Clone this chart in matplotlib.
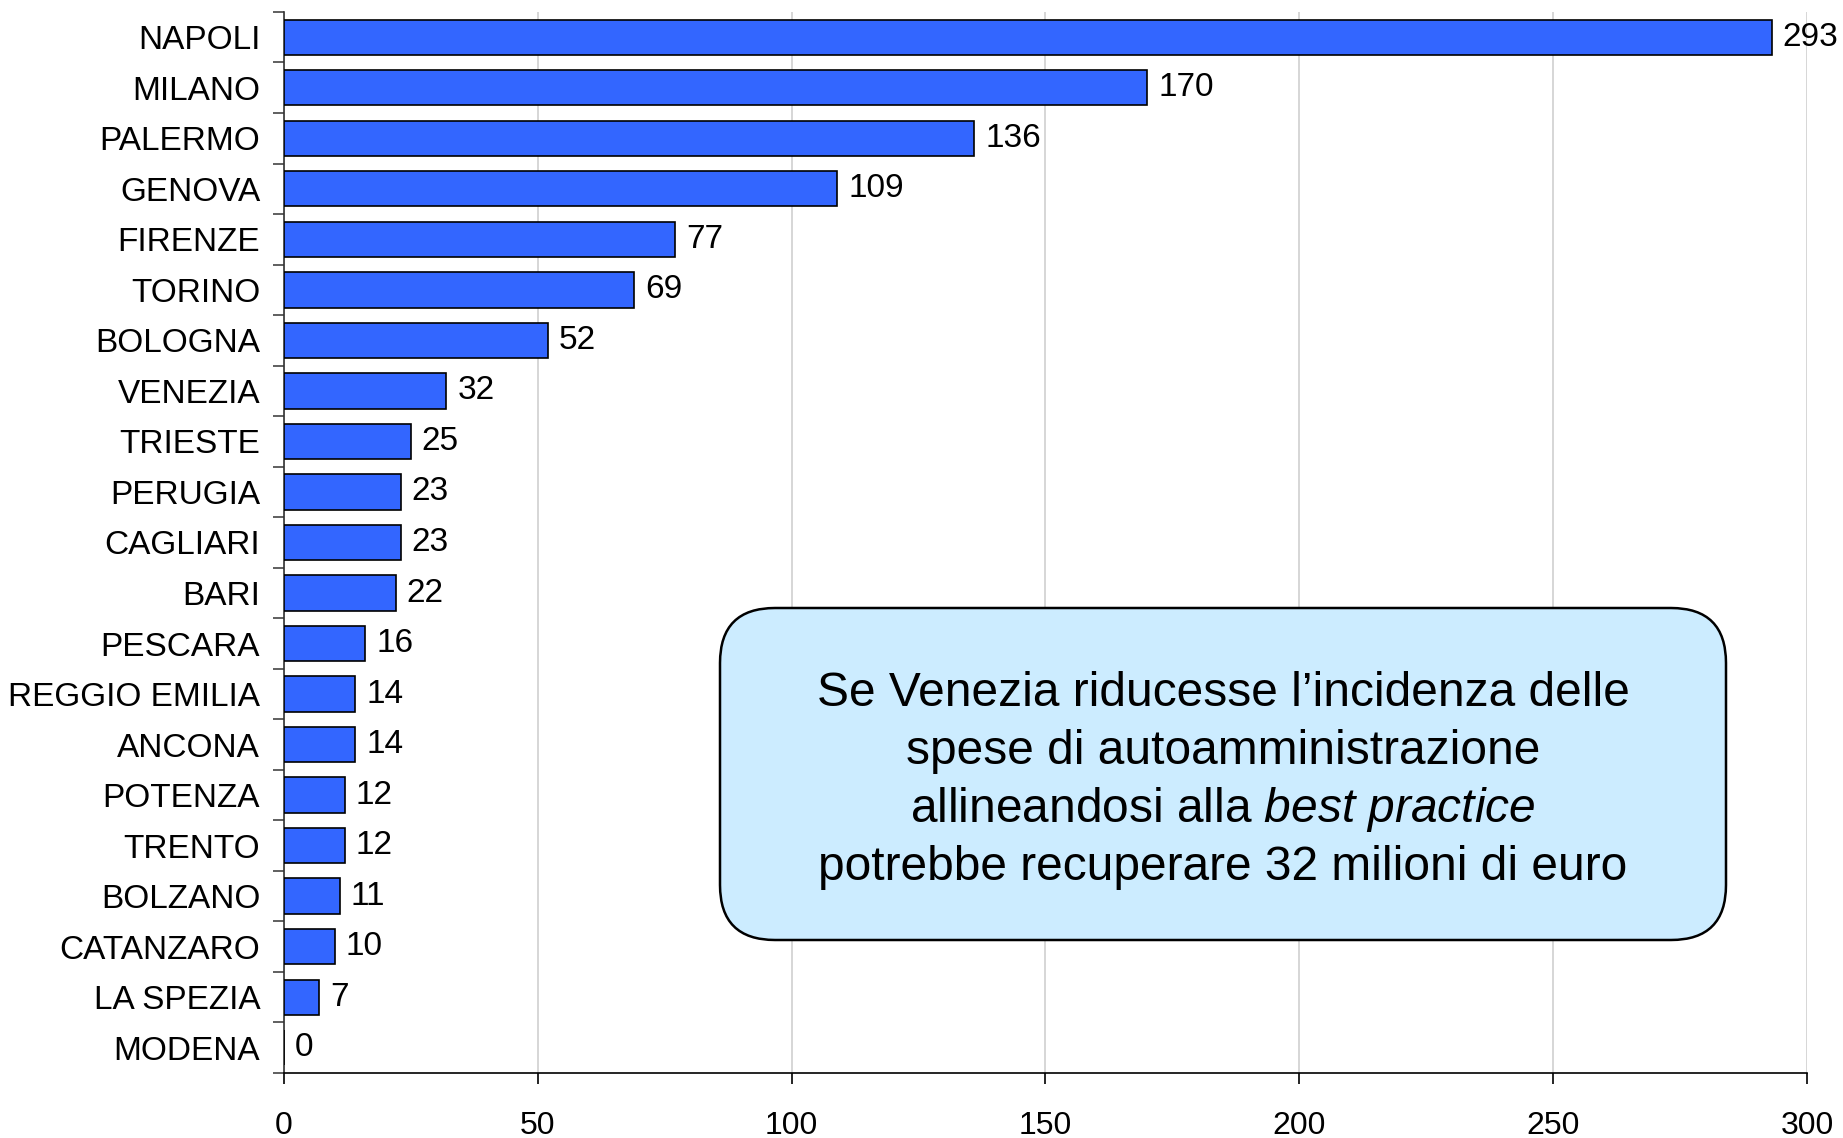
import numpy as np
import matplotlib
matplotlib.use("Agg")
import matplotlib.pyplot as plt
from matplotlib.patches import FancyBboxPatch
from matplotlib.transforms import IdentityTransform

plt.rcParams['font.family'] = ['Liberation Sans', 'DejaVu Sans']
plt.rcParams['mathtext.fontset'] = 'custom'
plt.rcParams['mathtext.rm'] = 'Liberation Sans'
plt.rcParams['mathtext.it'] = 'Liberation Sans:italic'

# dati: milioni di euro recuperabili per citta'
citta = ["NAPOLI", "MILANO", "PALERMO", "GENOVA", "FIRENZE", "TORINO", "BOLOGNA",
         "VENEZIA", "TRIESTE", "PERUGIA", "CAGLIARI", "BARI", "PESCARA",
         "REGGIO EMILIA", "ANCONA", "POTENZA", "TRENTO", "BOLZANO", "CATANZARO",
         "LA SPEZIA", "MODENA"]
valori = [293, 170, 136, 109, 77, 69, 52, 32, 25, 23, 23, 22, 16, 14, 14, 12, 12, 11, 10, 7, 0]
xticks = [0, 50, 100, 150, 200, 250, 300]

testo = ["Se Venezia riducesse l\u2019incidenza delle",
         "spese di autoamministrazione",
         r"allineandosi alla $\it{best\ practice}$",
         "potrebbe recuperare 32 milioni di euro"]

fig = plt.figure(figsize=(18.43, 11.38), dpi=100)
ax = fig.add_axes([0.154, 0.0571, 0.8265, 0.9324])

n = len(citta)
y = np.arange(n)
ax.barh(y, valori, height=0.7, color="#3366FF", edgecolor="black", linewidth=1.2, zorder=3)

for yi, v in zip(y, valori):
    ax.annotate(str(v), (v, yi), xytext=(8, 0), textcoords="offset points",
                va="center", ha="left", fontsize=24, zorder=4)

ax.set_ylim(n - 0.5, -0.5)
ax.set_xlim(0, 300)
ax.set_yticks(y)
ax.set_yticklabels(citta, fontsize=24)
ax.set_yticks(np.arange(n + 1) - 0.5, minor=True)
ax.tick_params(axis="y", which="major", length=0, pad=17)
ax.tick_params(axis="y", which="minor", length=8, width=1.2, color="#444444")
ax.set_xticks(xticks)
ax.set_xticklabels([str(t) for t in xticks], fontsize=23)
ax.tick_params(axis="x", length=8, width=1.2, pad=19)

ax.grid(axis="x", color="#D0D0D0", linewidth=1.2, zorder=0)
ax.spines["top"].set_visible(False)
ax.spines["right"].set_visible(False)
ax.spines["left"].set_color("#333333")
ax.spines["left"].set_linewidth(1.2)
ax.spines["bottom"].set_linewidth(1.2)

# riquadro con il commento (coordinate in pixel)
H = 1138
box = FancyBboxPatch((720, H - 940), 1006, 332,
                     boxstyle="round,pad=0,rounding_size=55",
                     facecolor="#CCECFF", edgecolor="black", linewidth=1.8,
                     transform=IdentityTransform(), zorder=5)
fig.patches.append(box)
box.set_figure(fig)

cx = (720 + 1726) / 2
righe_y = [694, 752, 809, 867]
for riga, ry in zip(testo, righe_y):
    fig.text(cx / 1843, 1 - ry / H, riga, ha="center", va="center", fontsize=34.5, zorder=6)

fig.savefig("out.png", dpi=100)
